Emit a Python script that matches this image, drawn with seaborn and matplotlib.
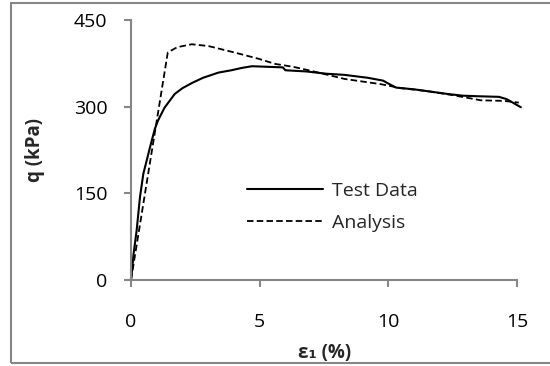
import matplotlib
matplotlib.use("Agg")
import matplotlib.pyplot as plt
import seaborn as sns
import pandas as pd
from matplotlib.patches import Rectangle
from matplotlib.lines import Line2D

# ---- data ----
test_strain = [0, 0.03, 0.1, 0.22, 0.35, 0.48, 0.6, 0.74, 0.93, 1.05, 1.3, 1.7, 2.0,
               2.37, 2.8, 3.4, 3.9, 4.3, 4.7, 5.3, 5.9, 6.0, 6.8, 7.6, 8.3, 9.2, 9.8,
               10.0, 10.3, 11.0, 11.65, 12.3, 12.9, 13.5, 14.3, 14.6, 15.15]
test_q = [0, 12, 45, 86, 144, 184, 205, 230, 262, 276, 298, 322, 332,
          341, 350, 359, 363, 367, 370, 369, 368, 363, 361, 357, 355, 350, 345,
          340, 333, 330, 326, 322, 319, 318, 317, 313, 299]

analysis_strain = [0, 1.43, 1.8, 2.36, 3.0, 4.0, 4.95, 5.6, 6.3, 7.0, 8.3, 9.7,
                   10.5, 11.5, 12.5, 13.6, 14.5, 15.07]
analysis_q = [0, 394, 403, 408, 405, 394, 383, 374, 369, 362, 348, 339,
              332, 327, 320, 311, 310, 307]

x_ticks = [0, 5, 10, 15]
y_ticks = [0, 150, 300, 450]
series_labels = ["Test Data", "Analysis"]

sns.set_style("white")
plt.rcParams['font.family'] = ['Open Sans', 'DejaVu Sans']

fig = plt.figure(figsize=(5.5, 3.66), dpi=100)
ax = fig.add_axes([131/550, 1-280/366, (517-131)/550, (280-20)/366])

df_test = pd.DataFrame({"strain": test_strain, "q": test_q})
df_an = pd.DataFrame({"strain": analysis_strain, "q": analysis_q})

sns.lineplot(data=df_test, x="strain", y="q", ax=ax, color="black", lw=1.5,
             estimator=None, sort=False, clip_on=False)
sns.lineplot(data=df_an, x="strain", y="q", ax=ax, color="black", lw=1.3,
             estimator=None, sort=False, clip_on=False, linestyle="--")
ax.lines[1].set_dashes((3.6, 1.8))

ax.set_xlim(0, 15)
ax.set_ylim(0, 450)
ax.set_xticks(x_ticks)
ax.set_yticks(y_ticks)
ax.set_xticklabels([str(t) for t in x_ticks])
ax.set_yticklabels([str(t) for t in y_ticks])

gray = "#868686"
for s in ["top", "right"]:
    ax.spines[s].set_visible(False)
for s in ["left", "bottom"]:
    ax.spines[s].set_color(gray)
    ax.spines[s].set_linewidth(1.5)
ax.tick_params(axis="both", direction="out", length=5, width=1.5, color=gray,
               labelsize=14, labelcolor="black")
ax.tick_params(axis="y", pad=12, left=True)
ax.tick_params(axis="x", pad=19, bottom=True)

ax.set_xlabel("ε₁ (%)", fontsize=13.5, fontweight="bold")
ax.set_ylabel("q (kPa)", fontsize=13.5, fontweight="bold")
ax.xaxis.label.set_va("center")
ax.yaxis.label.set_va("center")
ax.xaxis.set_label_coords((325-131)/386, (280-353)/260)
ax.yaxis.set_label_coords((35-131)/386, 0.5)

handles = [Line2D([], [], color="black", lw=1.5),
           Line2D([], [], color="black", lw=1.3, dashes=(3.6, 1.8))]
ax.legend(handles, series_labels, loc="upper left",
          bbox_to_anchor=((247-131)/386, (280-182)/260), frameon=False,
          fontsize=14, handlelength=3.9, handletextpad=0.45, borderpad=0,
          borderaxespad=0, labelspacing=0.72)

fig.patches.append(Rectangle((11/550, 1-363/366), 545/550, 360/366,
                             transform=fig.transFigure, fill=False,
                             edgecolor=gray, linewidth=1.5))

fig.savefig("out.png", dpi=100)
